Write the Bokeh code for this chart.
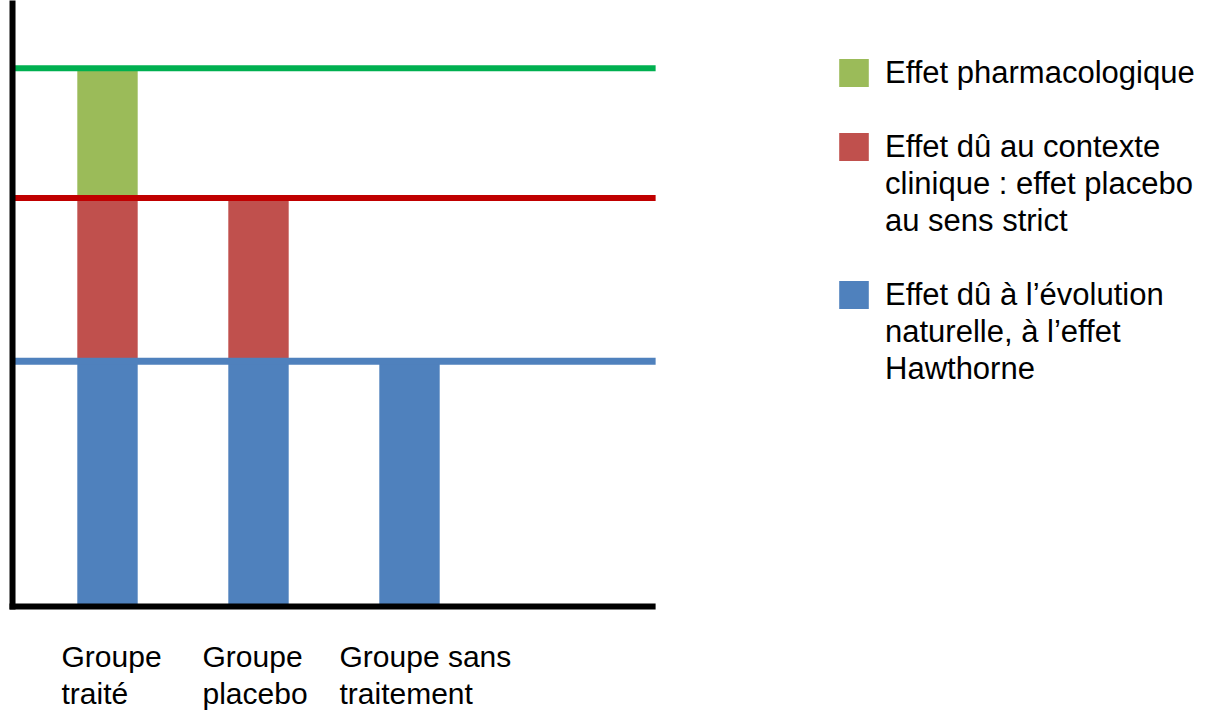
from bokeh.plotting import figure
from bokeh.models import Range1d, ColumnDataSource, Legend, LegendItem
from bokeh.core.properties import value
from bokeh.embed import file_html
from bokeh.resources import INLINE

# ---- data ----
groups = ["Groupe\ntraité", "Groupe\nplacebo", "Groupe sans\ntraitement"]
effet_evolution = [4.1, 4.1, 4.1]
effet_contexte = [2.73, 2.73, 0.0]
effet_pharmaco = [2.17, 0.0, 0.0]
series_labels = [
    "Effet pharmacologique",
    "Effet dû au contexte\nclinique : effet placebo\nau sens strict",
    "Effet dû à l’évolution\nnaturelle, à l’effet\nHawthorne",
]

# ---- style / layout ----
BLUE, RED, GREEN = "#4F81BD", "#C0504D", "#9BBB59"
LINE_BLUE, LINE_RED, LINE_GREEN = "#4F81BD", "#C00000", "#00B050"
FONT = "Liberation Sans"
label_nudge = [-46, -56, -70]      # screen-pixel nudges of the category labels
AX_X0, AX_X1 = -0.629, 3.61        # extent of the chart's axes (x units)
AX_Y1 = 10.2                       # top of the vertical axis (y units)

W, H = 1221, 711
p = figure(width=W, height=H,
           x_range=Range1d(-0.7086, -0.7086 + W / 151.0),
           y_range=Range1d(-(H - 606) / 59.8, 606 / 59.8),
           x_axis_type=None, y_axis_type=None,
           output_backend="svg", toolbar_location=None,
           min_border=0, outline_line_color=None)
p.grid.visible = False

src = ColumnDataSource(dict(x=list(range(len(groups))), label=groups,
                            nudge=label_nudge,
                            evolution=effet_evolution, contexte=effet_contexte,
                            pharmaco=effet_pharmaco))

rs = p.vbar_stack(["evolution", "contexte", "pharmaco"], x="x", width=0.4,
                  fill_color=[BLUE, RED, GREEN], line_color=None, source=src)

# reference levels (cumulated effects of the treated group)
lvl_evol = effet_evolution[0]
lvl_ctx = lvl_evol + effet_contexte[0]
lvl_pharm = lvl_ctx + effet_pharmaco[0]
lv = ColumnDataSource(dict(y=[lvl_evol, lvl_ctx, lvl_pharm],
                           color=[LINE_BLUE, LINE_RED, LINE_GREEN],
                           w=[7, 6, 6]))
p.segment(x0=AX_X0, x1=AX_X1 + 0.02, y0="y", y1="y", line_color="color",
          line_width="w", source=lv)

# axes
p.segment(x0=[AX_X0, AX_X0], y0=[0, 0], x1=[AX_X1, AX_X0], y1=[0, AX_Y1],
          line_color="black", line_width=6, line_cap="square")

# category labels
p.text(x="x", y=0, text="label", source=src, x_offset="nudge", y_offset=33,
       text_align="left", text_baseline="top", text_font=value(FONT),
       text_font_size="30px", text_color="black", text_line_height=1.133)

# legend: one row per text line, the swatch on the first line of each entry,
# an empty row between entries
legend_renderers = [rs[2], rs[1], rs[0]]
items = []
for k, (lab, r) in enumerate(zip(series_labels, legend_renderers)):
    if k > 0:
        items.append(LegendItem(label=" ", renderers=[]))
    for j, line in enumerate(lab.split("\n")):
        items.append(LegendItem(label=line, renderers=[r] if j == 0 else []))

legend = Legend(items=items, location=(835, 324), orientation="vertical",
                glyph_width=37, glyph_height=35, label_standoff=13, spacing=0,
                padding=0, margin=0, border_line_color=None,
                background_fill_alpha=0, label_text_font=FONT,
                label_text_font_size="31px", label_height=37,
                label_text_color="black")
p.add_layout(legend)

p.background_fill_color = "white"
p.border_fill_color = "white"

open("out.html", "w").write(file_html(p, INLINE))
